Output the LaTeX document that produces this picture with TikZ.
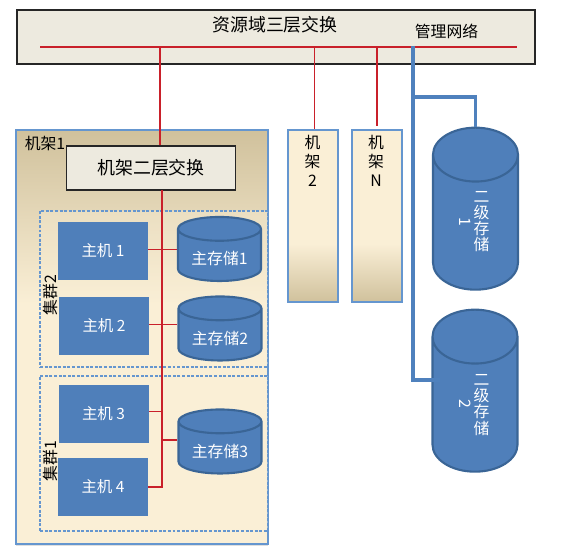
\documentclass[tikz,border=0pt]{standalone}
\usepackage{fontspec}
\setmainfont{Noto Sans CJK SC}
\usetikzlibrary{shapes.geometric,shadows}
\definecolor{panel}{HTML}{EDEADF}
\definecolor{hostblue}{HTML}{4F7FBA}
\definecolor{diskedge}{HTML}{3A6596}
\definecolor{rackedge}{HTML}{6596CF}
\definecolor{linkred}{HTML}{C9202A}
\definecolor{linkblue}{HTML}{4F81BD}
\definecolor{cream}{HTML}{FAEFD6}
\definecolor{tan}{HTML}{D0C19C}
\pgfdeclareverticalshading{rackdown}{100bp}{color(0bp)=(cream); color(54bp)=(cream); color(75bp)=(tan); color(100bp)=(tan)}
\pgfdeclareverticalshading{rackup}{100bp}{color(0bp)=(tan); color(25bp)=(tan); color(42bp)=(cream); color(100bp)=(cream)}
\begin{document}
\begin{tikzpicture}[
    panelbox/.style={rectangle, draw=black!85, line width=0.7pt, fill=panel, align=center},
    hostbox/.style={rectangle, fill=hostblue, text=white, minimum width=1.8cm, minimum height=1.16cm, font=\fontsize{8.8}{10}\selectfont},
    rackbox/.style={rectangle, draw=rackedge, line width=0.6pt},
    clusterbox/.style={rectangle, draw=rackedge, dash pattern=on 1.7pt off 0.9pt, line width=0.6pt, fill=cream, fill opacity=0.35, minimum width=4.56cm},
    storedisk/.style={cylinder, shape border rotate=90, draw=diskedge, line width=1.2pt, fill=hostblue, text=white, minimum width=1.66cm, minimum height=1.28cm, aspect=0.35, font=\fontsize{9}{11}\selectfont},
    bigdisk/.style={storedisk, minimum width=1.7cm, minimum height=3.24cm, aspect=4.6},
    tag/.style={font=\fontsize{9}{11}\selectfont, inner sep=0pt, align=center},
    disktag/.style={tag, text=white, font=\fontsize{9}{9.2}\selectfont},
    redlink/.style={draw=linkred, line width=0.8pt},
    bluelink/.style={draw=linkblue, line width=1.9pt}
]
    \useasboundingbox (0,0) rectangle (11.3,-11.04);

    % Racks and clusters
    \node[rackbox, shade, shading=rackdown, minimum width=5.04cm, minimum height=8.28cm, drop shadow={shadow xshift=0pt, shadow yshift=-1pt, opacity=0.25}] (rack1) at (2.84,-6.74) {};
    \node[rackbox, shade, shading=rackup, minimum width=1cm, minimum height=3.44cm] (rack2) at (6.26,-4.32) {};
    \node[rackbox, shade, shading=rackup, minimum width=1cm, minimum height=3.44cm] (rackN) at (7.54,-4.32) {};
    \node[clusterbox, minimum height=3.12cm] (cluster2) at (3.08,-5.78) {};
    \node[clusterbox, minimum height=3.10cm] (cluster1) at (3.08,-9.07) {};

    % Core switch
    \node[panelbox, minimum width=10.36cm, minimum height=1.08cm] (core) at (5.52,-0.74) {};
    \node[tag, font=\fontsize{10.2}{12}\selectfont] (coretext) at (5.50,-0.50) {资源域三层交换};
    \node[tag] (mgmttext) at (8.93,-0.62) {管理网络};
    \coordinate (busl) at (0.80,-0.94);
    \coordinate (busr) at (10.34,-0.94);
    \coordinate (tap1) at (3.20,-0.94);
    \coordinate (tap2) at (6.29,-0.94);
    \coordinate (tap3) at (7.54,-0.94);
    \draw[redlink] (busl) -- (busr);

    % Rack 1 contents
    \node[panelbox, minimum width=3.39cm, minimum height=0.88cm, font=\fontsize{10.2}{12}\selectfont] (switch) at (3.02,-3.36) {机架二层交换};
    \node[hostbox] (host1) at (2.06,-5.02) {主机 1};
    \node[hostbox] (host2) at (2.08,-6.52) {主机 2};
    \node[hostbox] (host3) at (2.07,-8.27) {主机 3};
    \node[hostbox] (host4) at (2.06,-9.74) {主机 4};
    \coordinate (trunk) at (3.24,-3.80);
    \coordinate (tee3) at (3.24,-8.80);
    \draw[redlink] (tap1) -- (tap1 |- switch.north);
    \draw[redlink] (tap2) -- (tap2 |- rack2.north);
    \draw[redlink] (tap3) -- ([yshift=1.7pt]tap3 |- rackN.north);
    \draw[redlink] (host4.east) -| (trunk);
    \node[storedisk] (store1) at (4.39,-5.17) {主存储1};
    \node[storedisk] (store2) at (4.40,-6.76) {主存储2};
    \node[storedisk] (store3) at (4.40,-9.02) {主存储3};
    \draw[redlink] ([yshift=1pt]host1.east) -- ([yshift=1pt]host1.east -| store1.west);
    \draw[redlink] ([yshift=1pt]host2.east) -- ([yshift=1pt]host2.east -| store2.west);
    \draw[redlink] ([yshift=1pt]host3.east) -- ([yshift=1pt]host3.east -| trunk);
    \draw[redlink] (tee3) -- (tee3 -| store3.west);

    \node[tag] (rack1text) at (0.90,-2.88) {机架1};
    \node[tag] (rack2text) at (6.25,-3.22) {机\\架\\2};
    \node[tag] (rackNtext) at (7.52,-3.22) {机\\架\\N};
    \node[tag, rotate=90] (cluster2text) at (1.01,-5.90) {集群2};
    \node[tag, rotate=90] (cluster1text) at (1.01,-9.22) {集群1};

    % Secondary storage
    \node[bigdisk] (disk1) at (9.51,-4.59) {};
    \node[bigdisk] (disk2) at (9.50,-8.23) {};
    \coordinate (mgmt) at (8.26,-0.92);
    \coordinate (tee1) at (8.26,-1.94);
    \coordinate (disk2in) at (8.80,-7.60);
    \draw[bluelink] (mgmt) |- (disk2in);
    \draw[bluelink] (tee1) -| (disk1.north);
    \node[disktag] (disk1text) at (9.63,-4.43) {二\\级\\存\\储};
    \node[disktag, rotate=-90] (disk1num) at (9.30,-4.43) {1};
    \node[disktag] (disk2text) at (9.63,-8.10) {二\\级\\存\\储};
    \node[disktag, rotate=-90] (disk2num) at (9.30,-8.08) {2};
\end{tikzpicture}
\end{document}
